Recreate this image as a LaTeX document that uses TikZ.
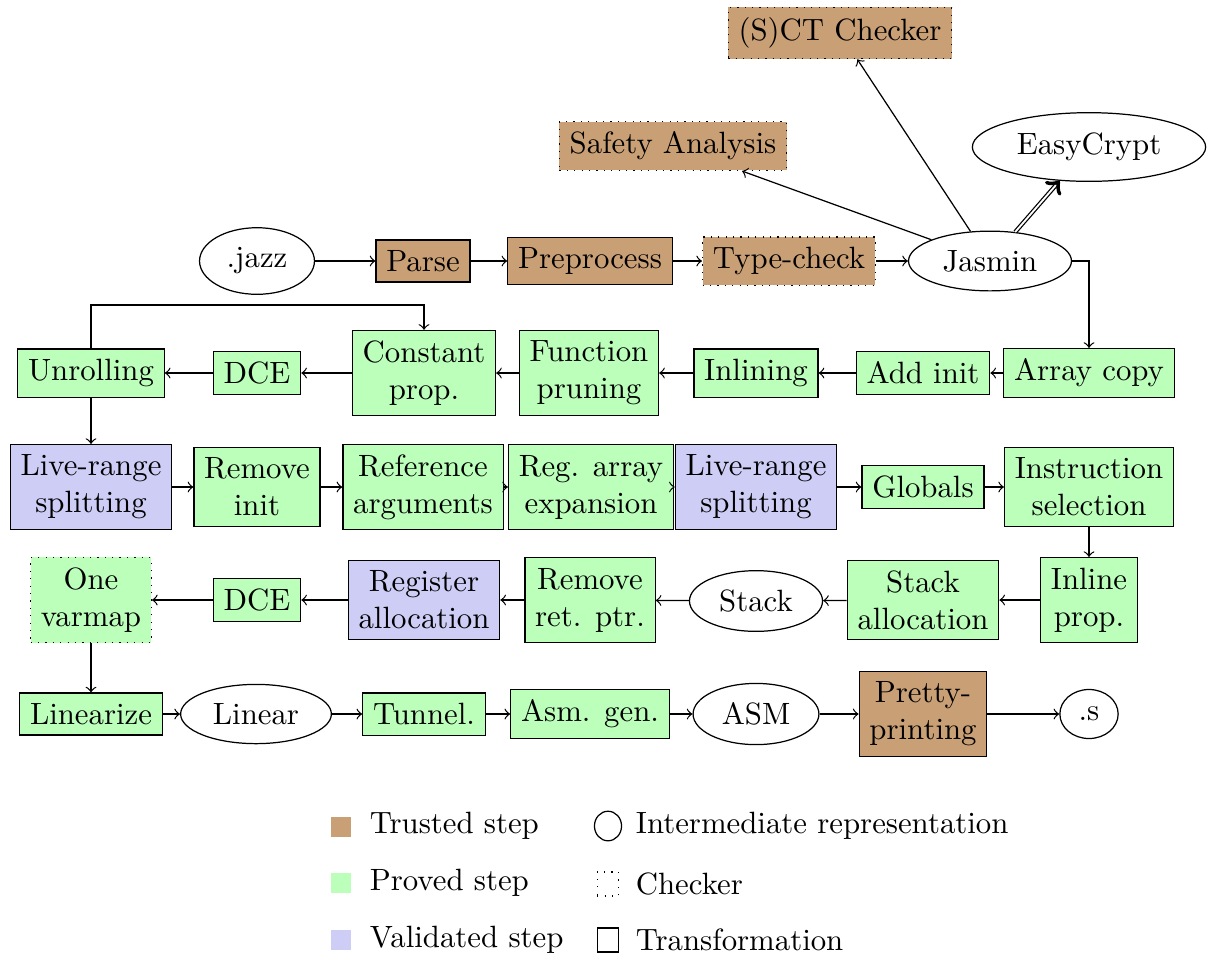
\documentclass[tikz,border=0pt]{standalone}
\usetikzlibrary{shapes.geometric}
\definecolor{trusted}{RGB}{201,159,118}
\definecolor{proved}{RGB}{187,255,187}
\definecolor{validated}{RGB}{205,205,245}
\begin{document}
\begin{tikzpicture}[x=0.3247pt,y=-0.3247pt,
  tr/.style={draw, fill=trusted, align=center},
  pr/.style={draw, fill=proved, align=center},
  va/.style={draw, fill=validated, align=center},
  ir/.style={draw, ellipse, align=center},
  chk/.style={dotted},
  arr/.style={->},
  swatch/.style={minimum size=6.5pt, inner sep=0pt},
  legtext/.style={anchor=west}]
\useasboundingbox (0,0) rectangle (1211,958);
% top
\node[tr,chk] (sct) at (840,33) {(S)CT Checker};
\node[tr,chk] (safety) at (673,146) {Safety Analysis};
\node[ir] (ec) at (1089,147) {EasyCrypt};
% row 1
\node[ir] (jazz) at (257,261) {.jazz};
\node[tr] (parse) at (423,261) {Parse};
\node[tr] (pre) at (590,261) {Preprocess};
\node[tr,chk] (tc) at (789,261) {Type-check};
\node[ir] (jasmin) at (990,261) {Jasmin};
% row 2
\node[pr] (acopy) at (1089,373) {Array copy};
\node[pr] (addinit) at (923,373) {Add init};
\node[pr] (inl) at (756,373) {Inlining};
\node[pr] (fprune) at (589,373) {Function\\pruning};
\node[pr] (cprop) at (424,373) {Constant\\prop.};
\node[pr] (dcea) at (257,373) {DCE};
\node[pr] (unroll) at (91,373) {Unrolling};
% row 3
\node[va] (lra) at (91,487) {Live-range\\splitting};
\node[pr] (rminit) at (257,487) {Remove\\init};
\node[pr] (refarg) at (423,487) {Reference\\arguments};
\node[pr] (regarr) at (591,487) {Reg. array\\expansion};
\node[va] (lrb) at (756,487) {Live-range\\splitting};
\node[pr] (glob) at (923,487) {Globals};
\node[pr] (isel) at (1089,487) {Instruction\\selection};
% row 4
\node[pr] (iprop) at (1089,600) {Inline\\prop.};
\node[pr] (salloc) at (923,600) {Stack\\allocation};
\node[ir] (stack) at (756,601) {Stack};
\node[pr] (rmret) at (590,600) {Remove\\ret. ptr.};
\node[va] (ralloc) at (424,600) {Register\\allocation};
\node[pr] (dceb) at (257,600) {DCE};
\node[pr,chk] (onev) at (91,600) {One\\varmap};
% row 5
\node[pr] (lin) at (91,714) {Linearize};
\node[ir] (linear) at (256,714) {Linear};
\node[pr] (tun) at (424,714) {Tunnel.};
\node[pr] (asmgen) at (590,714) {Asm. gen.};
\node[ir] (asm) at (756,714) {ASM};
\node[tr] (pp) at (923,714) {Pretty-\\printing};
\node[ir] (dots) at (1089,714) {.s};
% connectors
\draw[arr] (jazz) -- (parse);
\draw[arr] (parse) -- (pre);
\draw[arr] (pre) -- (tc);
\draw[arr] (tc) -- (jasmin);
\draw[arr] (jasmin) -- (safety);
\draw[arr] (jasmin) -- (sct);
\draw[double, ->] (jasmin) -- (ec);
\draw[arr] (jasmin.east) -| (acopy.north);
\draw[arr] (acopy) -- (addinit);
\draw[arr] (addinit) -- (inl);
\draw[arr] (inl) -- (fprune);
\draw[arr] (fprune) -- (cprop);
\draw[arr] (cprop) -- (dcea);
\draw[arr] (dcea) -- (unroll);
\coordinate (fb) at (424,305);
\draw[arr] (unroll.north) |- (fb) -- (cprop.north);
\draw[arr] (unroll) -- (lra);
\draw[arr] (lra) -- (rminit);
\draw[arr] (rminit) -- (refarg);
\draw[arr] (refarg) -- (regarr);
\draw[arr] (regarr) -- (lrb);
\draw[arr] (lrb) -- (glob);
\draw[arr] (glob) -- (isel);
\draw[arr] (isel) -- (iprop);
\draw[arr] (iprop) -- (salloc);
\draw[arr] (salloc) -- (stack);
\draw[arr] (stack) -- (rmret);
\draw[arr] (rmret) -- (ralloc);
\draw[arr] (ralloc) -- (dceb);
\draw[arr] (dceb) -- (onev);
\draw[arr] (onev) -- (lin);
\draw[arr] (lin) -- (linear);
\draw[arr] (linear) -- (tun);
\draw[arr] (tun) -- (asmgen);
\draw[arr] (asmgen) -- (asm);
\draw[arr] (asm) -- (pp);
\draw[arr] (pp) -- (dots);
% legend
\node[swatch, fill=trusted] (s1) at (341,827) {};
\node[legtext] (t1) at (359,826) {Trusted step};
\node[swatch, fill=proved] (s2) at (341,883) {};
\node[legtext] (t2) at (359,883) {Proved step};
\node[swatch, fill=validated] (s3) at (341,940) {};
\node[legtext] (t3) at (359,940) {Validated step};
\node[draw, ellipse, minimum width=8.8pt, minimum height=9.6pt, inner sep=0pt] (s4) at (608,826) {};
\node[legtext] (t4) at (625,826) {Intermediate representation};
\node[draw, dotted, minimum width=7pt, minimum height=7.8pt, inner sep=0pt] (s5) at (608,884) {};
\node[legtext] (t5) at (625,884) {Checker};
\node[draw, minimum width=7pt, minimum height=7.8pt, inner sep=0pt] (s6) at (608,940) {};
\node[legtext] (t6) at (625,940) {Transformation};
\end{tikzpicture}
\end{document}
